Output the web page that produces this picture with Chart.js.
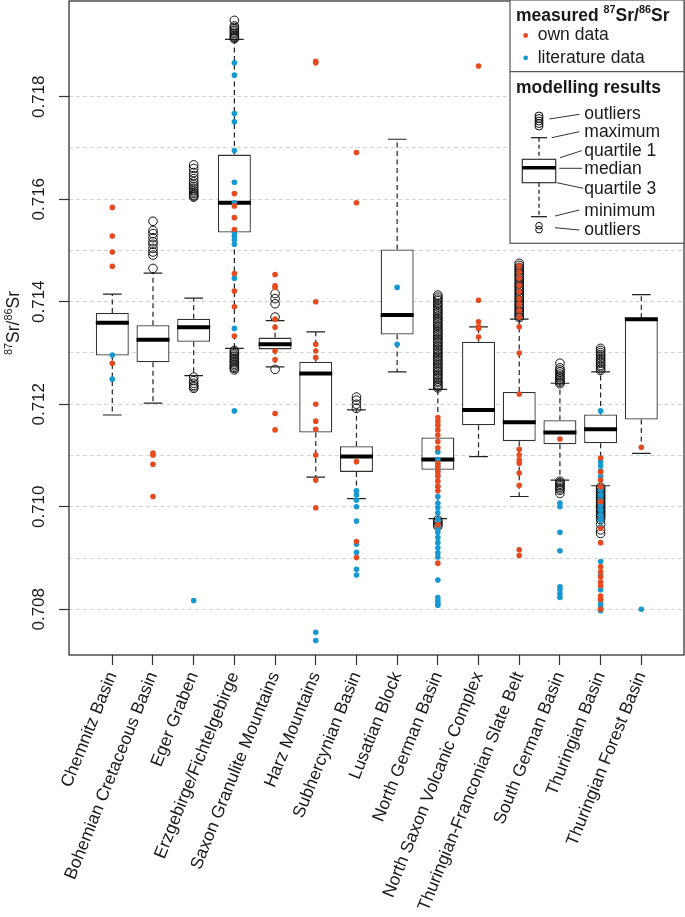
<!DOCTYPE html>
<html>
<head>
<meta charset="utf-8">
<script src="https://cdn.jsdelivr.net/npm/chart.js@4.4.1/dist/chart.umd.min.js"></script>
<style>
  html, body { margin: 0; padding: 0; background: #fff; }
  #wrap { width: 685px; height: 917px; }
</style>
</head>
<body>
<div id="wrap"><canvas id="chart" width="685" height="917"></canvas></div>
<script>
/* ---------- data ---------- */
const categories = [
  'Chemnitz Basin', 'Bohemian Cretaceous Basin', 'Eger Graben', 'Erzgebirge/Fichtelgebirge',
  'Saxon Granulite Mountains', 'Harz Mountains', 'Subhercynian Basin', 'Lusatian Block',
  'North German Basin', 'North Saxon Volcanic Complex', 'Thuringian-Franconian Slate Belt',
  'South German Basin', 'Thuringian Basin', 'Thuringian Forest Basin'
];

const whiskerLow  = [0.71179, 0.71202, 0.71256, 0.71309, 0.71273, 0.71058, 0.71016, 0.71263, 0.70977, 0.71098, 0.71020, 0.71052, 0.71041, 0.71104];
const quartile1   = [0.71295, 0.71282, 0.71322, 0.71535, 0.71307, 0.71145, 0.71068, 0.71336, 0.71072, 0.71159, 0.71128, 0.71122, 0.71124, 0.71170];
const medians     = [0.71359, 0.71326, 0.71350, 0.71593, 0.71317, 0.71260, 0.71098, 0.71374, 0.71092, 0.71189, 0.71165, 0.71145, 0.71151, 0.71366];
const quartile3   = [0.71378, 0.71354, 0.71367, 0.71687, 0.71330, 0.71283, 0.71118, 0.71502, 0.71135, 0.71322, 0.71224, 0.71169, 0.71180, 0.71368];
const whiskerHigh = [0.71415, 0.71456, 0.71407, 0.71912, 0.71363, 0.71341, 0.71189, 0.71717, 0.71229, 0.71351, 0.71366, 0.71241, 0.71263, 0.71414];

const outliers = [
  [],
  [0.71557, 0.71539, 0.71533, 0.71525, 0.71517, 0.71512, 0.71504, 0.71497, 0.71491, 0.71465],
  [0.71667, 0.71660, 0.71652, 0.71646, 0.71640, 0.71634, 0.71629, 0.71625, 0.71621, 0.71617, 0.71614, 0.71611, 0.71608, 0.71606, 0.71604,
   0.71253, 0.71246, 0.71241, 0.71237, 0.71234, 0.71231],
  [0.71949, 0.71938, 0.71935, 0.71932, 0.71929, 0.71926, 0.71923, 0.71920, 0.71917, 0.71915, 0.71913,
   0.71305, 0.71302, 0.71299, 0.71296, 0.71293, 0.71290, 0.71287, 0.71284, 0.71281, 0.71278, 0.71275, 0.71272, 0.71270, 0.71267],
  [0.71416, 0.71406, 0.71396, 0.71370, 0.71268],
  [],
  [0.71214, 0.71208, 0.71200, 0.71192],
  [],
  [0.71413, 0.71409, 0.71405, 0.71402, 0.71397, 0.71394, 0.71390, 0.71386, 0.71383, 0.71379, 0.71376, 0.71372, 0.71368, 0.71365,
   0.71361, 0.71358, 0.71354, 0.71351, 0.71347, 0.71343, 0.71340, 0.71336, 0.71333, 0.71329, 0.71326, 0.71322, 0.71319, 0.71315,
   0.71312, 0.71308, 0.71305, 0.71301, 0.71298, 0.71294, 0.71291, 0.71287, 0.71284, 0.71280, 0.71277, 0.71273, 0.71270, 0.71266,
   0.71263, 0.71259, 0.71256, 0.71252, 0.71249, 0.71245, 0.71242, 0.71238, 0.71235, 0.71232,
   0.70974, 0.70970, 0.70966, 0.70962],
  [],
  [0.71475, 0.71471, 0.71467, 0.71464, 0.71460, 0.71456, 0.71453, 0.71449, 0.71446, 0.71442, 0.71438, 0.71435, 0.71431, 0.71428,
   0.71424, 0.71421, 0.71417, 0.71414, 0.71410, 0.71407, 0.71403, 0.71400, 0.71396, 0.71393, 0.71389, 0.71386, 0.71382, 0.71379,
   0.71376, 0.71372, 0.71369],
  [0.71280, 0.71271, 0.71267, 0.71263, 0.71259, 0.71255, 0.71252, 0.71249, 0.71246, 0.71243, 0.71240,
   0.71050, 0.71047, 0.71044, 0.71041, 0.71038, 0.71035, 0.71032, 0.71026],
  [0.71309, 0.71305, 0.71301, 0.71297, 0.71294, 0.71290, 0.71287, 0.71283, 0.71280, 0.71276, 0.71273, 0.71269, 0.71266,
   0.71038, 0.71035, 0.71031, 0.71028, 0.71024, 0.71021, 0.71017, 0.71014, 0.71010, 0.71007, 0.71003, 0.71000, 0.70997,
   0.70993, 0.70990, 0.70986, 0.70983, 0.70980, 0.70975, 0.70966, 0.70955, 0.70948],
  []
];

const ownData = [
  [0.71584, 0.71528, 0.71497, 0.71469, 0.71280],
  [0.71105, 0.71101, 0.71083, 0.71020],
  [],
  [0.71611, 0.71587, 0.71564, 0.71541, 0.71455, 0.71421, 0.71390, 0.71333],
  [0.71453, 0.71431, 0.71428, 0.71366, 0.71350, 0.71304, 0.71287, 0.71182, 0.71150],
  [0.71869, 0.71866, 0.71400, 0.71317, 0.71304, 0.71291, 0.71200, 0.71167, 0.71151, 0.71101, 0.71052, 0.70998],
  [0.71691, 0.71593, 0.71088, 0.70932, 0.70901],
  [],
  [0.71174, 0.71167, 0.71159, 0.71150, 0.71140, 0.71127, 0.71115, 0.71085, 0.71077, 0.71068, 0.71060, 0.71050, 0.71040, 0.71031, 0.70965, 0.70890],
  [0.71860, 0.71403, 0.71361, 0.71351, 0.71348, 0.71331],
  [0.71470, 0.71458, 0.71446, 0.71432, 0.71420, 0.71406, 0.71395, 0.71383, 0.71370, 0.71351, 0.71300, 0.71220,
   0.71112, 0.71101, 0.71091, 0.71085, 0.71066, 0.71042, 0.70916, 0.70905],
  [0.71132],
  [0.71095, 0.71068, 0.71052, 0.71039, 0.71010, 0.70958, 0.70930, 0.70883, 0.70873, 0.70863, 0.70853, 0.70846, 0.70826, 0.70819, 0.70800],
  [0.71116]
];

const literatureData = [
  [0.71296, 0.71249],
  [],
  [0.70817],
  [0.71866, 0.71842, 0.71767, 0.71751, 0.71695, 0.71633, 0.71593, 0.71535, 0.71528, 0.71521, 0.71512, 0.71446, 0.71348, 0.71187],
  [],
  [0.70755, 0.70739],
  [0.71031, 0.71023, 0.71013, 0.71000, 0.70972, 0.70927, 0.70911, 0.70878, 0.70867],
  [0.71428, 0.71317],
  [0.71107, 0.71092, 0.71080, 0.71070, 0.71060, 0.71040, 0.71020, 0.71007, 0.70998, 0.70988, 0.70975, 0.70958,
   0.70950, 0.70940, 0.70930, 0.70920, 0.70910, 0.70902, 0.70857, 0.70823, 0.70817, 0.70812, 0.70808],
  [],
  [],
  [0.71007, 0.71000, 0.70950, 0.70914, 0.70844, 0.70838, 0.70830, 0.70823],
  [0.71187, 0.71088, 0.71080, 0.71070, 0.71059, 0.71033, 0.71023, 0.71013, 0.71004, 0.70994, 0.70984, 0.70974,
   0.70961, 0.70893, 0.70867, 0.70838, 0.70818, 0.70810, 0.70803, 0.70797],
  [0.70800]
];

const yGrid = [0.708, 0.709, 0.710, 0.711, 0.712, 0.713, 0.714, 0.715, 0.716, 0.717, 0.718];
const yLabels = [0.708, 0.710, 0.712, 0.714, 0.716, 0.718];

/* ---------- styling ---------- */
const FONT = '"Liberation Sans", Arial, Helvetica, sans-serif';
const INK = '#1a1a1a';
const FS = 17.5;
const RED = '#e64a1e';
const BLUE = '#1699d3';
const BOX_HALF = 0.405;
const CAP_HALF = 0.23;

/* ---------- derived series ---------- */
const pos = i => i + 1;
const flatPoints = groups => groups.flatMap((vals, i) => vals.map(v => ({ x: pos(i), y: v })));

const boxData = categories.map((c, i) => ({ x: pos(i), y: [quartile1[i], quartile3[i]] }));
const whiskerData = categories.flatMap((c, i) => [
  { x: pos(i), y: quartile3[i] }, { x: pos(i), y: whiskerHigh[i] }, { x: pos(i), y: null },
  { x: pos(i), y: quartile1[i] }, { x: pos(i), y: whiskerLow[i] }, { x: pos(i), y: null }
]);
const capData = categories.flatMap((c, i) => [
  { x: pos(i) - CAP_HALF, y: whiskerHigh[i] }, { x: pos(i) + CAP_HALF, y: whiskerHigh[i] }, { x: pos(i) + CAP_HALF, y: null },
  { x: pos(i) - CAP_HALF, y: whiskerLow[i] }, { x: pos(i) + CAP_HALF, y: whiskerLow[i] }, { x: pos(i) + CAP_HALF, y: null }
]);
const medianData = categories.flatMap((c, i) => [
  { x: pos(i) - BOX_HALF, y: medians[i] }, { x: pos(i) + BOX_HALF, y: medians[i] }, { x: pos(i) + BOX_HALF, y: null }
]);

/* ---------- text helpers ---------- */
const srParts = [{ t: '87', sup: true }, { t: 'Sr/' }, { t: '86', sup: true }, { t: 'Sr' }];

function drawRich(ctx, parts, x, y, size, bold, measureOnly) {
  let cx = x;
  parts.forEach(p => {
    const s = p.sup ? size * 0.62 : size;
    ctx.font = `${bold ? 'bold ' : ''}${s}px ${FONT}`;
    if (!measureOnly) ctx.fillText(p.t, cx, p.sup ? y - size * 0.42 : y);
    cx += ctx.measureText(p.t).width;
  });
  return cx - x;
}

function seg(ctx, x1, y1, x2, y2) {
  ctx.beginPath(); ctx.moveTo(x1, y1); ctx.lineTo(x2, y2); ctx.stroke();
}

function noPad(s) {
  s.paddingLeft = 0; s.paddingRight = 0; s.paddingTop = 0; s.paddingBottom = 0;
}

/* ---------- frame, y labels, axis title, legend ---------- */
const decor = {
  id: 'decor',
  afterDatasetsDraw(chart) {
    const { ctx, chartArea: a, scales: { y } } = chart;
    ctx.save();

    ctx.strokeStyle = '#333';
    ctx.lineWidth = 1.3;
    ctx.strokeRect(a.left, a.top, a.right - a.left, a.bottom - a.top);

    // y tick labels, rotated like R's default
    ctx.fillStyle = INK;
    ctx.textAlign = 'center';
    ctx.textBaseline = 'alphabetic';
    ctx.font = `17px ${FONT}`;
    yLabels.forEach(v => {
      ctx.save();
      ctx.translate(a.left - 25, y.getPixelForValue(v));
      ctx.rotate(-Math.PI / 2);
      ctx.fillText(v.toFixed(3), 0, 0);
      ctx.restore();
    });

    // y axis title
    ctx.save();
    ctx.translate(19, (a.top + a.bottom) / 2 - 5);
    ctx.rotate(-Math.PI / 2);
    ctx.textAlign = 'left';
    const w = drawRich(ctx, srParts, 0, 0, FS, false, true);
    drawRich(ctx, srParts, -w / 2, 0, FS, false);
    ctx.restore();

    // legend box
    const L = a.right - 174, T = a.top - 1, R = a.right, B = T + 243.3;
    ctx.fillStyle = '#fff';
    ctx.fillRect(L, T, R - L, B - T);
    ctx.strokeStyle = '#555';
    ctx.lineWidth = 1.2;
    ctx.strokeRect(L, T, R - L, B - T);
    seg(ctx, L, T + 71.7, R, T + 71.7);

    ctx.textAlign = 'left';
    ctx.fillStyle = INK;
    drawRich(ctx, [{ t: 'measured ' }, ...srParts], L + 6, T + 20.7, FS, true);
    ctx.font = `${FS}px ${FONT}`;
    ctx.fillText('own data', L + 27.7, T + 40.3);
    ctx.fillText('literature data', L + 27.7, T + 62.7);
    [[RED, 35.5], [BLUE, 57.8]].forEach(([col, yy]) => {
      ctx.fillStyle = col;
      ctx.beginPath(); ctx.arc(L + 15.7, T + yy, 2.4, 0, Math.PI * 2); ctx.fill();
    });
    ctx.fillStyle = INK;
    ctx.font = `bold ${FS}px ${FONT}`;
    ctx.fillText('modelling results', L + 6, T + 92.7);

    // mini boxplot key
    const cx = L + 29;
    ctx.strokeStyle = '#111';
    ctx.lineWidth = 1;
    [116, 118.5, 121, 123.5, 126].forEach(yy => {
      ctx.beginPath(); ctx.arc(cx, T + yy, 4, 0, Math.PI * 2); ctx.stroke();
    });
    [225.7, 229.7].forEach(yy => {
      ctx.beginPath(); ctx.arc(cx, T + yy, 3.3, 0, Math.PI * 2); ctx.stroke();
    });
    ctx.lineWidth = 1.2;
    seg(ctx, cx - 8, T + 137.7, cx + 8, T + 137.7);
    seg(ctx, cx - 8, T + 216.7, cx + 8, T + 216.7);
    ctx.setLineDash([4, 3]);
    seg(ctx, cx, T + 137.7, cx, T + 159.3);
    seg(ctx, cx, T + 182.7, cx, T + 216.7);
    ctx.setLineDash([]);
    ctx.strokeStyle = '#333';
    ctx.strokeRect(cx - 16.7, T + 159.3, 33.4, 23.4);
    ctx.strokeStyle = '#000';
    ctx.lineWidth = 3.5;
    seg(ctx, cx - 16.7, T + 167.7, cx + 16.7, T + 167.7);

    ctx.strokeStyle = '#333';
    ctx.lineWidth = 1;
    [[39.3, 119, 69.3, 114.3], [41.7, 137.7, 69.3, 131.7], [50, 157.7, 71.7, 150.7], [49.3, 168.3, 72.3, 168.3],
     [46.7, 182.7, 73.3, 188.3], [45, 216, 69.3, 210], [45, 227.7, 69.3, 230]]
      .forEach(([x1, y1, x2, y2]) => seg(ctx, L + x1, T + y1, L + x2, T + y2));

    ctx.font = `${FS}px ${FONT}`;
    [['outliers', 119.3], ['maximum', 136.7], ['quartile 1', 155.7], ['median', 174],
     ['quartile 3', 194], ['minimum', 215.7], ['outliers', 235]]
      .forEach(([t, yy]) => ctx.fillText(t, L + 74.3, T + yy));

    ctx.restore();
  }
};

/* ---------- chart ---------- */
const lineSeg = (data, extra) => Object.assign({
  type: 'line', data, pointRadius: 0, fill: false, spanGaps: false, tension: 0, borderCapStyle: 'butt'
}, extra);

new Chart(document.getElementById('chart'), {
  type: 'scatter',
  data: {
    datasets: [
      { type: 'scatter', label: 'own data', data: flatPoints(ownData), order: 0,
        pointRadius: 2.8, pointBackgroundColor: RED, pointBorderWidth: 0 },
      { type: 'scatter', label: 'literature data', data: flatPoints(literatureData), order: 1,
        pointRadius: 2.8, pointBackgroundColor: BLUE, pointBorderWidth: 0 },
      { type: 'scatter', label: 'outliers', data: flatPoints(outliers), order: 2,
        pointRadius: 4.3, pointBackgroundColor: 'rgba(0,0,0,0)', pointBorderColor: '#111', pointBorderWidth: 1 },
      lineSeg(medianData, { label: 'median', order: 3, borderColor: '#000', borderWidth: 4 }),
      { type: 'bar', label: 'box', data: boxData, order: 4, backgroundColor: '#fff', borderColor: '#333',
        borderWidth: 1.3, borderSkipped: false, barPercentage: 0.81, categoryPercentage: 1, inflateAmount: 0 },
      lineSeg(capData, { label: 'caps', order: 5, borderColor: '#222', borderWidth: 1.2 }),
      lineSeg(whiskerData, { label: 'whiskers', order: 6, borderColor: '#222', borderWidth: 1.2, borderDash: [5, 3.5] })
    ]
  },
  options: {
    responsive: false,
    animation: false,
    devicePixelRatio: 1,
    events: [],
    layout: { autoPadding: false, padding: { top: 1, right: 1, left: 0, bottom: 0 } },
    plugins: { legend: { display: false }, tooltip: { enabled: false } },
    scales: {
      x: {
        type: 'linear', min: -0.064, max: 15.049, bounds: 'data', offset: false,
        afterBuildTicks: s => { s.ticks = categories.map((c, i) => ({ value: pos(i) })); },
        afterFit: s => { s.height = 262; noPad(s); },
        ticks: {
          autoSkip: false, minRotation: 68, maxRotation: 68, padding: 4, color: INK,
          font: { family: FONT, size: FS },
          callback: v => categories[v - 1]
        },
        grid: { display: true, drawOnChartArea: false, drawTicks: true, tickLength: 10,
                tickColor: '#333', tickWidth: 1.2, offset: false },
        border: { display: false }
      },
      y: {
        type: 'linear', min: 0.707108, max: 0.719867, bounds: 'data', offset: false,
        afterBuildTicks: s => { s.ticks = yGrid.map(v => ({ value: v })); },
        afterFit: s => { s.width = 69; noPad(s); },
        ticks: { display: false },
        grid: {
          color: '#d4d4d4', lineWidth: 1, drawTicks: true, tickLength: 10, tickWidth: 1.2, tickBorderDash: [],
          tickColor: c => (Math.round(c.tick.value * 1000) % 2 === 0 ? '#333' : 'rgba(0,0,0,0)')
        },
        border: { display: false, dash: [4, 3] }
      }
    }
  },
  plugins: [decor]
});
</script>
</body>
</html>
